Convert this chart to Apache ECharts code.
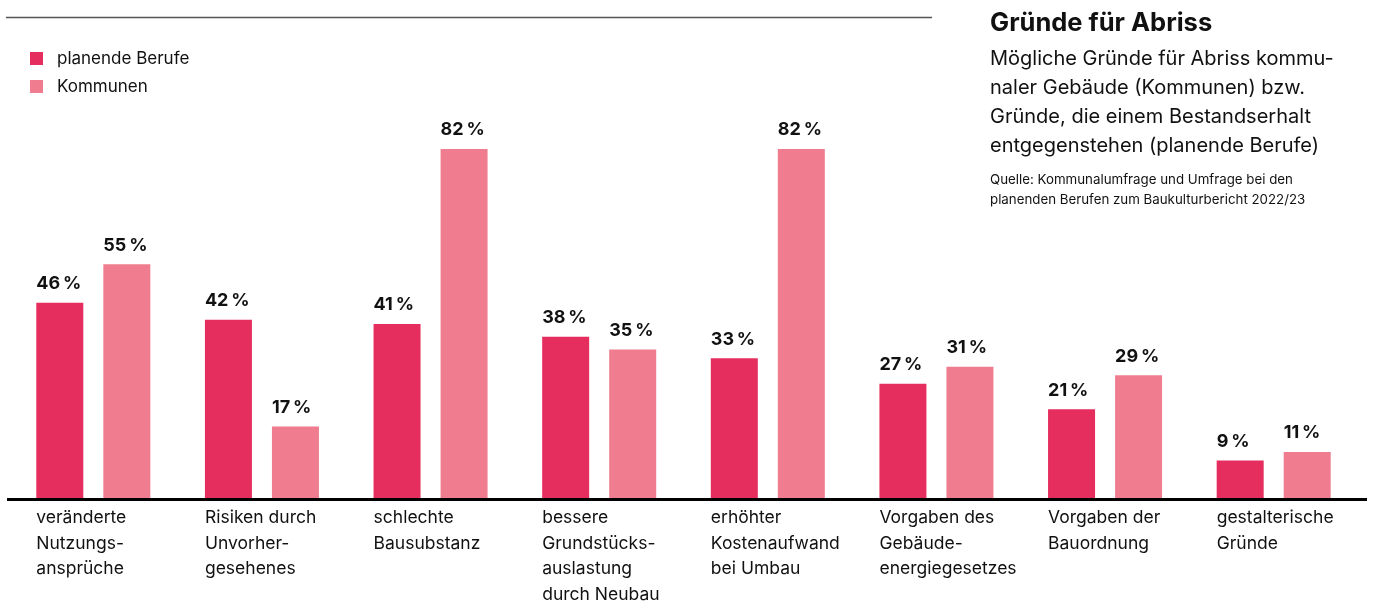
<!DOCTYPE html>
<html>
<head>
<meta charset="utf-8">
<script src="https://cdn.jsdelivr.net/npm/echarts@6/dist/echarts.min.js"></script>
<style>
html,body{margin:0;padding:0;background:#fff;}
#chart{width:1375px;height:601px;}
</style>
</head>
<body>
<div id="chart"></div>
<script>
const categories = [
  'veränderte\nNutzungs-\nansprüche',
  'Risiken durch\nUnvorher-\ngesehenes',
  'schlechte\nBausubstanz',
  'bessere\nGrundstücks-\nauslastung\ndurch Neubau',
  'erhöhter\nKostenaufwand\nbei Umbau',
  'Vorgaben des\nGebäude-\nenergiegesetzes',
  'Vorgaben der\nBauordnung',
  'gestalterische\nGründe'
];
const planendeBerufe = [46, 42, 41, 38, 33, 27, 21, 9];
const kommunen = [55, 17, 82, 35, 82, 31, 29, 11];
const seriesNames = ['planende Berufe', 'Kommunen'];
const titleText = 'Gründe für Abriss';
const subtitleText = 'Mögliche Gründe für Abriss kommu-\nnaler Gebäude (Kommunen) bzw.\nGründe, die einem Bestandserhalt\nentgegenstehen (planende Berufe)';
const sourceText = 'Quelle: Kommunalumfrage und Umfrage bei den\nplanenden Berufen zum Baukulturbericht 2022/23';

const FONT = 'Inter, "Noto Sans", sans-serif';
const DARK = '#E52D5E';
const LIGHT = '#F07D8F';
const BAR_W = 47;
const GAP_PX = 20;

const chart = echarts.init(document.getElementById('chart'), null, {renderer: 'canvas'});

const valueLabel = {
  show: true,
  position: [0, -10],
  align: 'left',
  verticalAlign: 'bottom',
  formatter: p => p.value + '\u2009%',
  fontFamily: FONT,
  fontSize: 18,
  fontWeight: 'bold',
  color: '#111'
};

chart.setOption({
  animation: false,
  backgroundColor: '#fff',
  title: {
    text: titleText,
    left: 990,
    top: 10,
    padding: 0,
    textStyle: {fontFamily: FONT, fontSize: 25.5, fontWeight: 'bold', color: '#111'}
  },
  legend: {
    orient: 'vertical',
    left: 30,
    top: 50,
    padding: 0,
    itemWidth: 13,
    itemHeight: 13,
    itemGap: 11,
    icon: 'rect',
    data: seriesNames,
    textStyle: {fontFamily: FONT, fontSize: 17, color: '#111', padding: [0, 0, 0, 9]}
  },
  grid: {left: 9, width: 1349, top: 72.2, bottom: 102, containLabel: false},
  xAxis: {
    type: 'category',
    data: categories,
    axisLine: {show: false},
    axisTick: {show: false},
    axisLabel: {show: false}
  },
  yAxis: {
    type: 'value',
    min: 0,
    max: 100,
    show: false,
    splitLine: {show: false}
  },
  series: [
    {
      name: seriesNames[0],
      type: 'bar',
      data: planendeBerufe,
      barWidth: BAR_W,
      barGap: (GAP_PX / BAR_W * 100).toFixed(1) + '%',
      itemStyle: {color: DARK},
      label: valueLabel
    },
    {
      name: seriesNames[1],
      type: 'bar',
      data: kommunen,
      barWidth: BAR_W,
      itemStyle: {color: LIGHT},
      label: valueLabel
    }
  ]
});

const graphics = [];
const baseY = chart.convertToPixel({yAxisIndex: 0}, 0);
categories.forEach((c, i) => {
  const cx = chart.convertToPixel({xAxisIndex: 0}, i);
  graphics.push({
    type: 'text',
    left: cx - BAR_W - GAP_PX / 2,
    top: baseY + 6,
    style: {text: c, font: '17.5px ' + FONT, fill: '#111', lineHeight: 25.5}
  });
});
graphics.push({
  type: 'line', z: 100,
  shape: {x1: 7, y1: baseY + 0.5, x2: 1367, y2: baseY + 0.5},
  style: {stroke: '#000', lineWidth: 3}
});
graphics.push({
  type: 'line',
  shape: {x1: 6, y1: 17.5, x2: 932, y2: 17.5},
  style: {stroke: '#555', lineWidth: 1.5}
});
graphics.push({
  type: 'text', left: 990, top: 44,
  style: {text: subtitleText, font: '20px ' + FONT, fill: '#111', lineHeight: 29}
});
graphics.push({
  type: 'text', left: 990, top: 170,
  style: {text: sourceText, font: '13.3px ' + FONT, fill: '#111', lineHeight: 20}
});
chart.setOption({graphic: graphics});
</script>
</body>
</html>
